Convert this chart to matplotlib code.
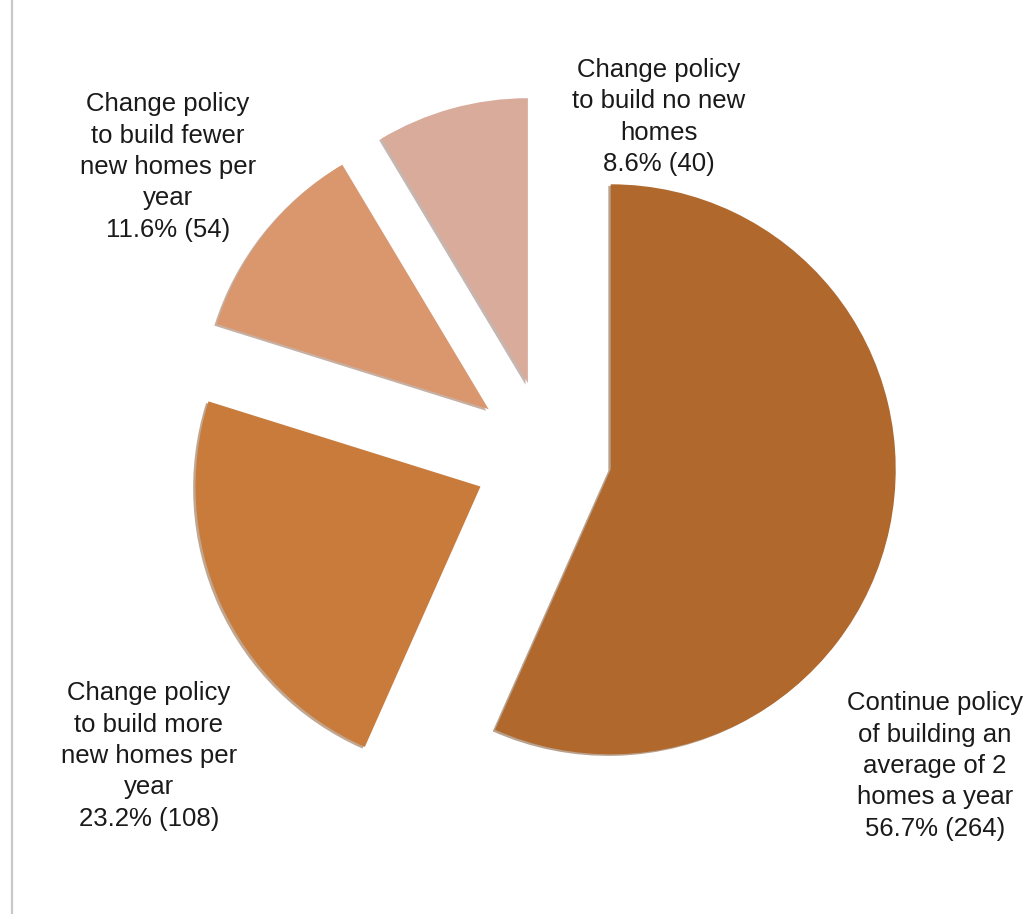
import matplotlib
matplotlib.use("Agg")
import matplotlib.pyplot as plt
from matplotlib.lines import Line2D

plt.rcParams['font.family'] = ['Liberation Sans', 'DejaVu Sans']

# answers, clockwise from 12 o'clock
labels = [
    "Continue policy\nof building an\naverage of 2\nhomes a year",
    "Change policy\nto build more\nnew homes per\nyear",
    "Change policy\nto build fewer\nnew homes per\nyear",
    "Change policy\nto build no new\nhomes",
]
counts = [264, 108, 54, 40]
percents = [56.7, 23.2, 11.6, 8.6]
colors = ["#B0682C", "#C97B3B", "#DA976E", "#D8AB9B"]
explode = [0.225, 0.26, 0.265, 0.265]

# label block centres in figure pixels (x, y from top)
label_pos = [(935, 766), (149, 756), (168, 167), (659, 117)]

W, H = 1031, 914
fig = plt.figure(figsize=(W / 100, H / 100), dpi=100)
ax = fig.add_axes([0, 0, 1, 1])

R = 285.0
cx, cy = 548.0, 456.0

ax.pie(counts, colors=colors, explode=explode, startangle=90,
       counterclock=False, radius=1,
       wedgeprops={'linewidth': 0},
       shadow={'ox': -0.006, 'oy': -0.004, 'shade': 0.35})

ax.set_xlim(-cx / R, (W - cx) / R)
ax.set_ylim(-(H - cy) / R, cy / R)
ax.set_aspect('equal')
ax.axis('off')

for lab, n, p, (px, py) in zip(labels, counts, percents, label_pos):
    fig.text(px / W, 1 - py / H, f"{lab}\n{p:.1f}% ({n})",
             ha='center', va='center', multialignment='center',
             fontsize=18.5, color='#1a1a1a', linespacing=1.39)

# thin grey frame line at the left edge of the slide
fig.add_artist(Line2D([12 / W, 12 / W], [0, 1], transform=fig.transFigure,
                      color='#c8c8c8', lw=1.6))

fig.savefig("out.png", dpi=100)
